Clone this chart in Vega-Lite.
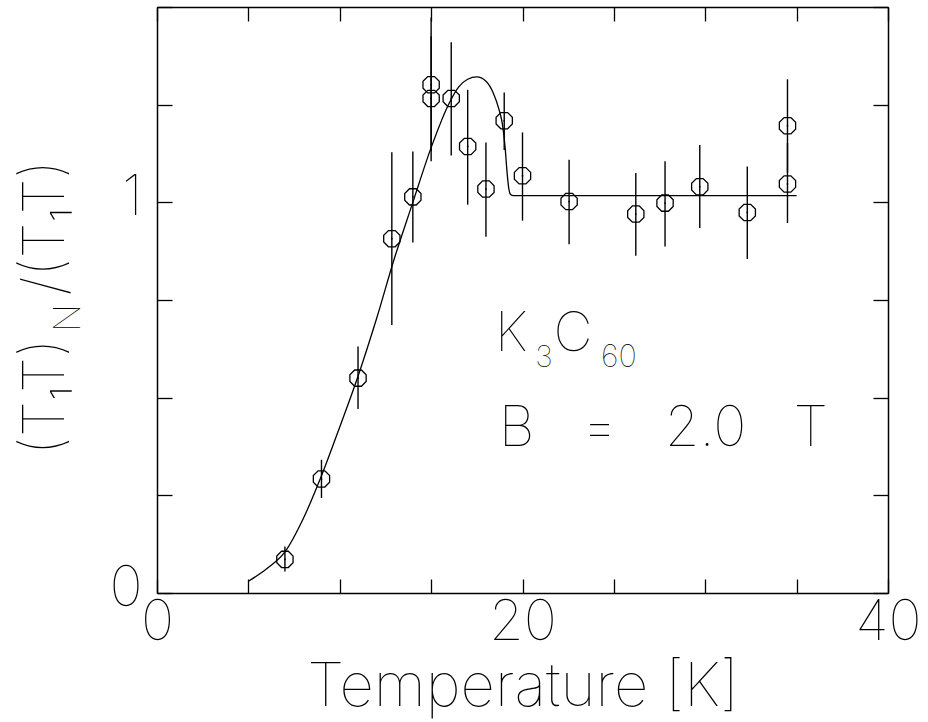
{
  "$schema": "https://vega.github.io/schema/vega-lite/v6.json",
  "width": 731,
  "height": 586,
  "autosize": {"type": "none"},
  "padding": {"left": 157, "top": 7, "right": 40, "bottom": 129},
  "background": "white",
  "config": {
    "view": {"stroke": null},
    "font": "Inter",
    "axis": {
      "grid": false,
      "domainColor": "black",
      "domainWidth": 1.5,
      "tickColor": "black",
      "tickWidth": 1.3,
      "labelColor": "black",
      "labelFont": "Inter",
      "labelFontWeight": 100,
      "labelFontSize": 56,
      "titleColor": "black",
      "titleFont": "Inter",
      "titleFontWeight": 100,
      "titleFontSize": 60
    },
    "text": {"font": "Inter", "fontWeight": 100, "color": "black"}
  },
  "datasets": {
    "nmr": [
      {"T": 7.0, "ratio": 0.086, "lo": 0.055, "hi": 0.119},
      {"T": 9.0, "ratio": 0.292, "lo": 0.243, "hi": 0.341},
      {"T": 11.0, "ratio": 0.550, "lo": 0.471, "hi": 0.631},
      {"T": 12.85, "ratio": 0.907, "lo": 0.686, "hi": 1.128},
      {"T": 14.0, "ratio": 1.014, "lo": 0.897, "hi": 1.130},
      {"T": 15.0, "ratio": 1.301, "lo": 1.131, "hi": 1.473},
      {"T": 15.0, "ratio": 1.266, "lo": 1.105, "hi": 1.425},
      {"T": 16.1, "ratio": 1.266, "lo": 1.120, "hi": 1.410},
      {"T": 17.0, "ratio": 1.143, "lo": 0.994, "hi": 1.288},
      {"T": 18.0, "ratio": 1.034, "lo": 0.912, "hi": 1.153},
      {"T": 19.0, "ratio": 1.209, "lo": 1.134, "hi": 1.281},
      {"T": 20.0, "ratio": 1.068, "lo": 0.953, "hi": 1.179},
      {"T": 22.55, "ratio": 1.002, "lo": 0.893, "hi": 1.109},
      {"T": 26.2, "ratio": 0.970, "lo": 0.863, "hi": 1.075},
      {"T": 27.8, "ratio": 0.998, "lo": 0.887, "hi": 1.105},
      {"T": 29.7, "ratio": 1.040, "lo": 0.934, "hi": 1.147},
      {"T": 32.3, "ratio": 0.974, "lo": 0.855, "hi": 1.092},
      {"T": 34.5, "ratio": 1.196, "lo": 1.076, "hi": 1.315},
      {"T": 34.5, "ratio": 1.047, "lo": 0.947, "hi": 1.152}
    ],
    "fit": [
      {"T": 5.0, "ratio": 0.030},
      {"T": 6.0, "ratio": 0.062},
      {"T": 7.0, "ratio": 0.105},
      {"T": 8.0, "ratio": 0.190},
      {"T": 9.0, "ratio": 0.300},
      {"T": 10.0, "ratio": 0.425},
      {"T": 11.0, "ratio": 0.555},
      {"T": 12.0, "ratio": 0.700},
      {"T": 13.0, "ratio": 0.858},
      {"T": 14.0, "ratio": 1.000},
      {"T": 15.0, "ratio": 1.140},
      {"T": 16.0, "ratio": 1.255},
      {"T": 16.5, "ratio": 1.295},
      {"T": 17.0, "ratio": 1.315},
      {"T": 17.5, "ratio": 1.321},
      {"T": 18.0, "ratio": 1.310},
      {"T": 18.4, "ratio": 1.280},
      {"T": 18.7, "ratio": 1.240},
      {"T": 18.9, "ratio": 1.200},
      {"T": 19.05, "ratio": 1.140},
      {"T": 19.15, "ratio": 1.080},
      {"T": 19.25, "ratio": 1.035},
      {"T": 19.35, "ratio": 1.020},
      {"T": 19.5, "ratio": 1.017},
      {"T": 35.0, "ratio": 1.017}
    ]
  },
  "resolve": {"axis": {"x": "independent", "y": "independent"}},
  "layer": [
    {
      "data": {"name": "fit"},
      "mark": {"type": "line", "color": "black", "strokeWidth": 1.3, "interpolate": "monotone", "clip": false},
      "encoding": {
        "x": {
          "field": "T", "type": "quantitative",
          "scale": {"domain": [0, 40], "nice": false, "zero": false},
          "axis": {
            "orient": "bottom",
            "values": [0, 5, 10, 15, 20, 25, 30, 35, 40],
            "format": "d",
            "labelExpr": "datum.value % 20 == 0 ? datum.label : ''",
            "tickSize": -14,
            "labelPadding": 16,
            "labelFlush": false,
            "labelOverlap": false,
            "title": "Temperature [K]",
            "titleBaseline": "alphabetic",
            "titleY": 112
          }
        },
        "y": {
          "field": "ratio", "type": "quantitative",
          "scale": {"domain": [0, 1.5], "nice": false, "zero": false},
          "axis": {
            "orient": "left",
            "values": [0, 0.25, 0.5, 0.75, 1, 1.25, 1.5],
            "labelExpr": "datum.value == 0 ? '0' : datum.value == 1 ? '1' : ''",
            "tickSize": -15,
            "labelPadding": 30,
            "labelOffset": -5,
            "labelFlush": false,
            "labelOverlap": false,
            "title": null
          }
        }
      }
    },
    {
      "data": {"name": "nmr"},
      "mark": {"type": "rule", "color": "black", "strokeWidth": 1.4},
      "encoding": {
        "x": {
          "field": "T", "type": "quantitative",
          "axis": {
            "orient": "top",
            "values": [0, 5, 10, 15, 20, 25, 30, 35, 40],
            "labels": false,
            "tickSize": -14,
            "title": null
          }
        },
        "y": {
          "field": "lo", "type": "quantitative",
          "axis": {
            "orient": "right",
            "values": [0, 0.25, 0.5, 0.75, 1, 1.25, 1.5],
            "labels": false,
            "tickSize": -15,
            "title": null
          }
        },
        "y2": {"field": "hi"}
      }
    },
    {
      "data": {"name": "nmr"},
      "mark": {
        "type": "point",
        "shape": "M-0.414,-1L0.414,-1L1,-0.414L1,0.414L0.414,1L-0.414,1L-1,0.414L-1,-0.414Z",
        "size": 265,
        "filled": false,
        "fill": "white",
        "fillOpacity": 0,
        "stroke": "black",
        "strokeWidth": 1.3,
        "opacity": 1
      },
      "encoding": {
        "x": {"field": "T", "type": "quantitative", "axis": null},
        "y": {"field": "ratio", "type": "quantitative", "axis": null}
      }
    },
    {
      "data": {"name": "nmr"},
      "mark": {"type": "point", "shape": "circle", "size": 3, "filled": true, "color": "black", "opacity": 1},
      "encoding": {
        "x": {"field": "T", "type": "quantitative", "axis": null},
        "y": {"field": "ratio", "type": "quantitative", "axis": null}
      }
    },
    {
      "data": {"values": [{"label": "(T₁T)"}]},
      "mark": {"type": "text", "angle": 270, "align": "center", "baseline": "alphabetic", "fontSize": 58, "clip": false},
      "encoding": {
        "x": {"datum": -5.09, "type": "quantitative", "axis": null},
        "y": {"datum": 0.502, "type": "quantitative", "axis": null},
        "text": {"field": "label"}
      }
    },
    {
      "data": {"values": [{"label": "N"}]},
      "mark": {"type": "text", "angle": 270, "align": "center", "baseline": "alphabetic", "fontSize": 36, "clip": false},
      "encoding": {
        "x": {"datum": -4.21, "type": "quantitative", "axis": null},
        "y": {"datum": 0.704, "type": "quantitative", "axis": null},
        "text": {"field": "label"}
      }
    },
    {
      "data": {"values": [{"label": "/(T₁T)"}]},
      "mark": {"type": "text", "angle": 270, "align": "center", "baseline": "alphabetic", "fontSize": 58, "clip": false},
      "encoding": {
        "x": {"datum": -5.09, "type": "quantitative", "axis": null},
        "y": {"datum": 0.935, "type": "quantitative", "axis": null},
        "text": {"field": "label"}
      }
    },
    {
      "data": {"values": [{"label": "K"}]},
      "mark": {"type": "text", "align": "left", "baseline": "alphabetic", "fontSize": 54},
      "encoding": {
        "x": {"datum": 18.5, "type": "quantitative", "axis": null},
        "y": {"datum": 0.6205, "type": "quantitative", "axis": null},
        "text": {"field": "label"}
      }
    },
    {
      "data": {"values": [{"label": "3"}]},
      "mark": {"type": "text", "align": "left", "baseline": "alphabetic", "fontSize": 30},
      "encoding": {
        "x": {"datum": 20.7, "type": "quantitative", "axis": null},
        "y": {"datum": 0.578, "type": "quantitative", "axis": null},
        "text": {"field": "label"}
      }
    },
    {
      "data": {"values": [{"label": "C"}]},
      "mark": {"type": "text", "align": "left", "baseline": "alphabetic", "fontSize": 54},
      "encoding": {
        "x": {"datum": 21.7, "type": "quantitative", "axis": null},
        "y": {"datum": 0.6205, "type": "quantitative", "axis": null},
        "text": {"field": "label"}
      }
    },
    {
      "data": {"values": [{"label": "60"}]},
      "mark": {"type": "text", "align": "left", "baseline": "alphabetic", "fontSize": 31},
      "encoding": {
        "x": {"datum": 24.3, "type": "quantitative", "axis": null},
        "y": {"datum": 0.578, "type": "quantitative", "axis": null},
        "text": {"field": "label"}
      }
    },
    {
      "data": {"values": [{"label": "B\u00a0\u00a0\u00a0=\u00a0\u00a0\u00a02.0\u00a0\u00a0\u00a0T"}]},
      "mark": {"type": "text", "align": "left", "baseline": "alphabetic", "fontSize": 56},
      "encoding": {
        "x": {"datum": 18.7, "type": "quantitative", "axis": null},
        "y": {"datum": 0.377, "type": "quantitative", "axis": null},
        "text": {"field": "label"}
      }
    }
  ]
}
